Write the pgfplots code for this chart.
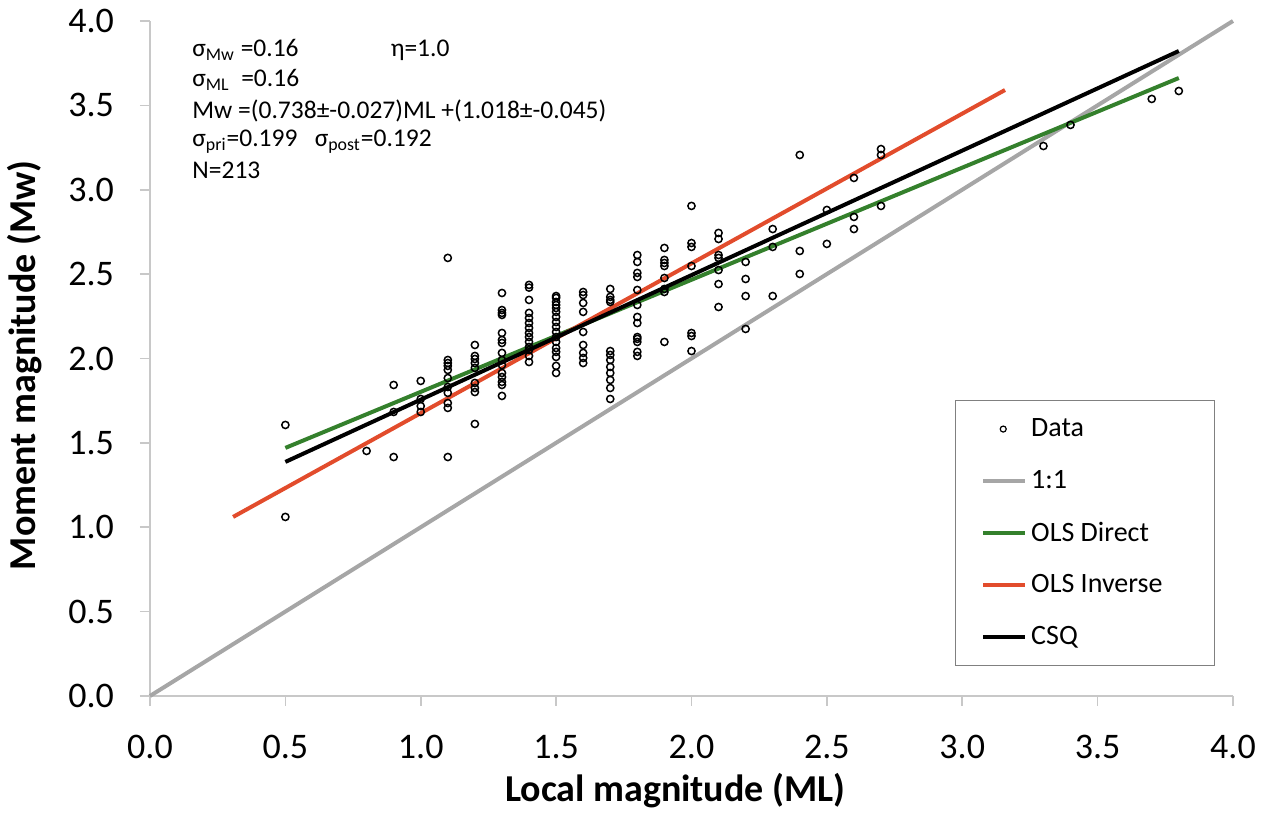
\documentclass[border=0pt]{standalone}
\usepackage{pgfplots}
\pgfplotsset{compat=1.18}
\usepackage{fontspec}
\setmainfont{Carlito}

\definecolor{oneone}{RGB}{166,166,166}
\definecolor{olsdir}{RGB}{52,128,44}
\definecolor{olsinv}{RGB}{226,76,44}
\definecolor{axgray}{RGB}{200,200,200}

\begin{document}
\begin{tikzpicture}
\begin{axis}[
    scale only axis,
    width=541.5pt, height=337.5pt,
    xmin=0, xmax=4, ymin=0, ymax=4,
    xtick={0,0.5,...,4}, ytick={0,0.5,...,4},
    axis x line*=bottom, axis y line*=left,
    axis line style={axgray, line width=0.8pt, -},
    tick style={axgray, line width=0.8pt},
    tick align=outside, major tick length=5pt,
    tick label style={font=\fontsize{18}{21}\selectfont},
    /pgf/number format/.cd, fixed, fixed zerofill, precision=1, assume math mode=true,
    /pgfplots/.cd,
    xticklabel style={yshift=-11pt},
    yticklabel style={xshift=-9.5pt},
    xlabel={\textbf{Local magnitude (ML)}},
    ylabel={\textbf{Moment magnitude (Mw)}},
    label style={font=\fontsize{19}{22}\selectfont},
    xlabel style={at={(ticklabel cs:0.485)}, yshift=-3pt, inner sep=1pt},
    ylabel style={at={(ticklabel cs:0.49)}, yshift=6.5pt},
    legend style={at={(rel axis cs:0.743,0.4385)}, anchor=north west,
        draw=gray, line width=0.6pt, font=\fontsize{14}{16}\selectfont,
        row sep=11.3pt, inner xsep=13pt, inner ysep=7pt,
        legend cell align=left},
    legend image code/.code={\draw[#1] (0pt,0pt) -- (21pt,0pt);},
    clip=false,
]
% data points
\addplot[only marks, mark=o, mark size=1.8pt, mark options={black, line width=0.75pt},
    legend image code/.code={\draw[black, line width=0.6pt] (10pt,0pt) circle (1.5pt);}]
coordinates {
(0.5,1.606)(0.5,1.061)(0.8,1.452)
(0.9,1.843)(0.9,1.683)(0.9,1.416)
(1.0,1.867)(1.0,1.760)(1.0,1.718)(1.0,1.683)
(1.1,2.596)(1.1,1.991)(1.1,1.973)(1.1,1.956)(1.1,1.932)(1.1,1.884)(1.1,1.831)(1.1,1.796)(1.1,1.736)(1.1,1.707)(1.1,1.416)
(1.2,2.080)(1.2,2.015)(1.2,1.997)(1.2,1.973)(1.2,1.944)(1.2,1.855)(1.2,1.825)(1.2,1.801)(1.2,1.612)
(1.3,2.388)(1.3,2.287)(1.3,2.270)(1.3,2.258)(1.3,2.151)(1.3,2.110)(1.3,2.092)(1.3,2.033)(1.3,1.991)(1.3,1.961)(1.3,1.914)(1.3,1.890)(1.3,1.861)(1.3,1.843)(1.3,1.778)
(1.4,2.436)(1.4,2.420)(1.4,2.347)(1.4,2.270)(1.4,2.240)(1.4,2.210)(1.4,2.181)(1.4,2.151)(1.4,2.127)(1.4,2.098)(1.4,2.068)(1.4,2.050)(1.4,2.015)(1.4,1.979)
(1.5,2.370)(1.5,2.359)(1.5,2.335)(1.5,2.317)(1.5,2.299)(1.5,2.276)(1.5,2.246)(1.5,2.216)(1.5,2.187)(1.5,2.157)(1.5,2.127)(1.5,2.098)(1.5,2.062)(1.5,2.039)(1.5,2.009)(1.5,1.956)(1.5,1.914)
(1.6,2.394)(1.6,2.376)(1.6,2.329)(1.6,2.276)(1.6,2.157)(1.6,2.080)(1.6,2.033)(1.6,2.003)(1.6,1.973)
(1.7,2.412)(1.7,2.365)(1.7,2.347)(1.7,2.335)(1.7,2.044)(1.7,2.021)(1.7,1.991)(1.7,1.950)(1.7,1.914)(1.7,1.873)(1.7,1.825)(1.7,1.760)
(1.8,2.613)(1.8,2.572)(1.8,2.507)(1.8,2.483)(1.8,2.406)(1.8,2.317)(1.8,2.246)(1.8,2.210)(1.8,2.127)(1.8,2.116)(1.8,2.098)(1.8,2.039)(1.8,2.015)
(1.9,2.655)(1.9,2.584)(1.9,2.566)(1.9,2.548)(1.9,2.477)(1.9,2.412)(1.9,2.394)(1.9,2.098)
(2.0,2.904)(2.0,2.684)(2.0,2.661)(2.0,2.548)(2.0,2.151)(2.0,2.133)(2.0,2.044)
(2.1,2.744)(2.1,2.708)(2.1,2.613)(2.1,2.596)(2.1,2.524)(2.1,2.441)(2.1,2.305)
(2.2,2.572)(2.2,2.471)(2.2,2.370)(2.2,2.175)
(2.3,2.767)(2.3,2.661)(2.3,2.370)
(2.4,3.206)(2.4,2.637)(2.4,2.501)
(2.5,2.880)(2.5,2.679)
(2.6,3.070)(2.6,2.839)(2.6,2.767)
(2.7,3.241)(2.7,3.206)(2.7,2.904)
(3.3,3.259)(3.4,3.384)(3.7,3.538)(3.8,3.585)
};
\addlegendentry{Data}
\addplot[oneone, line width=2pt] coordinates {(0,0)(4,4)};
\addlegendentry{1:1}
\addplot[olsdir, line width=2pt] coordinates {(0.5,1.470)(3.8,3.662)};
\addlegendentry{OLS Direct}
\addplot[olsinv, line width=2pt] coordinates {(0.307,1.061)(3.158,3.591)};
\addlegendentry{OLS Inverse\hspace*{11pt}}
\addplot[black, line width=2pt] coordinates {(0.5,1.387)(3.8,3.822)};
\addlegendentry{CSQ}

% annotation
\begin{scope}[every node/.style={anchor=west, inner sep=0pt, font=\fontsize{12.75}{14}\selectfont}]
\node at (rel axis cs:0.0388,0.957) {σ\textsubscript{Mw} =0.16};
\node at (rel axis cs:0.222,0.957) {η=1.0};
\node at (rel axis cs:0.0388,0.9126) {σ\textsubscript{ML}\ \ =0.16};
\node at (rel axis cs:0.0388,0.8667) {Mw =(0.738±-0.027)ML +(1.018±-0.045)};
\node at (rel axis cs:0.0388,0.8207) {σ\textsubscript{pri}=0.199\ \ \ σ\textsubscript{post}=0.192};
\node at (rel axis cs:0.0388,0.779) {N=213};
\end{scope}
% picture frame (margins of the reference)
\coordinate (bbsw) at (rel axis cs:-0.1385,-0.1807);
\coordinate (bbne) at (rel axis cs:1.0379,1.0311);
\end{axis}
\pgfresetboundingbox
\path[use as bounding box] (bbsw) rectangle (bbne);
\end{tikzpicture}
\end{document}
